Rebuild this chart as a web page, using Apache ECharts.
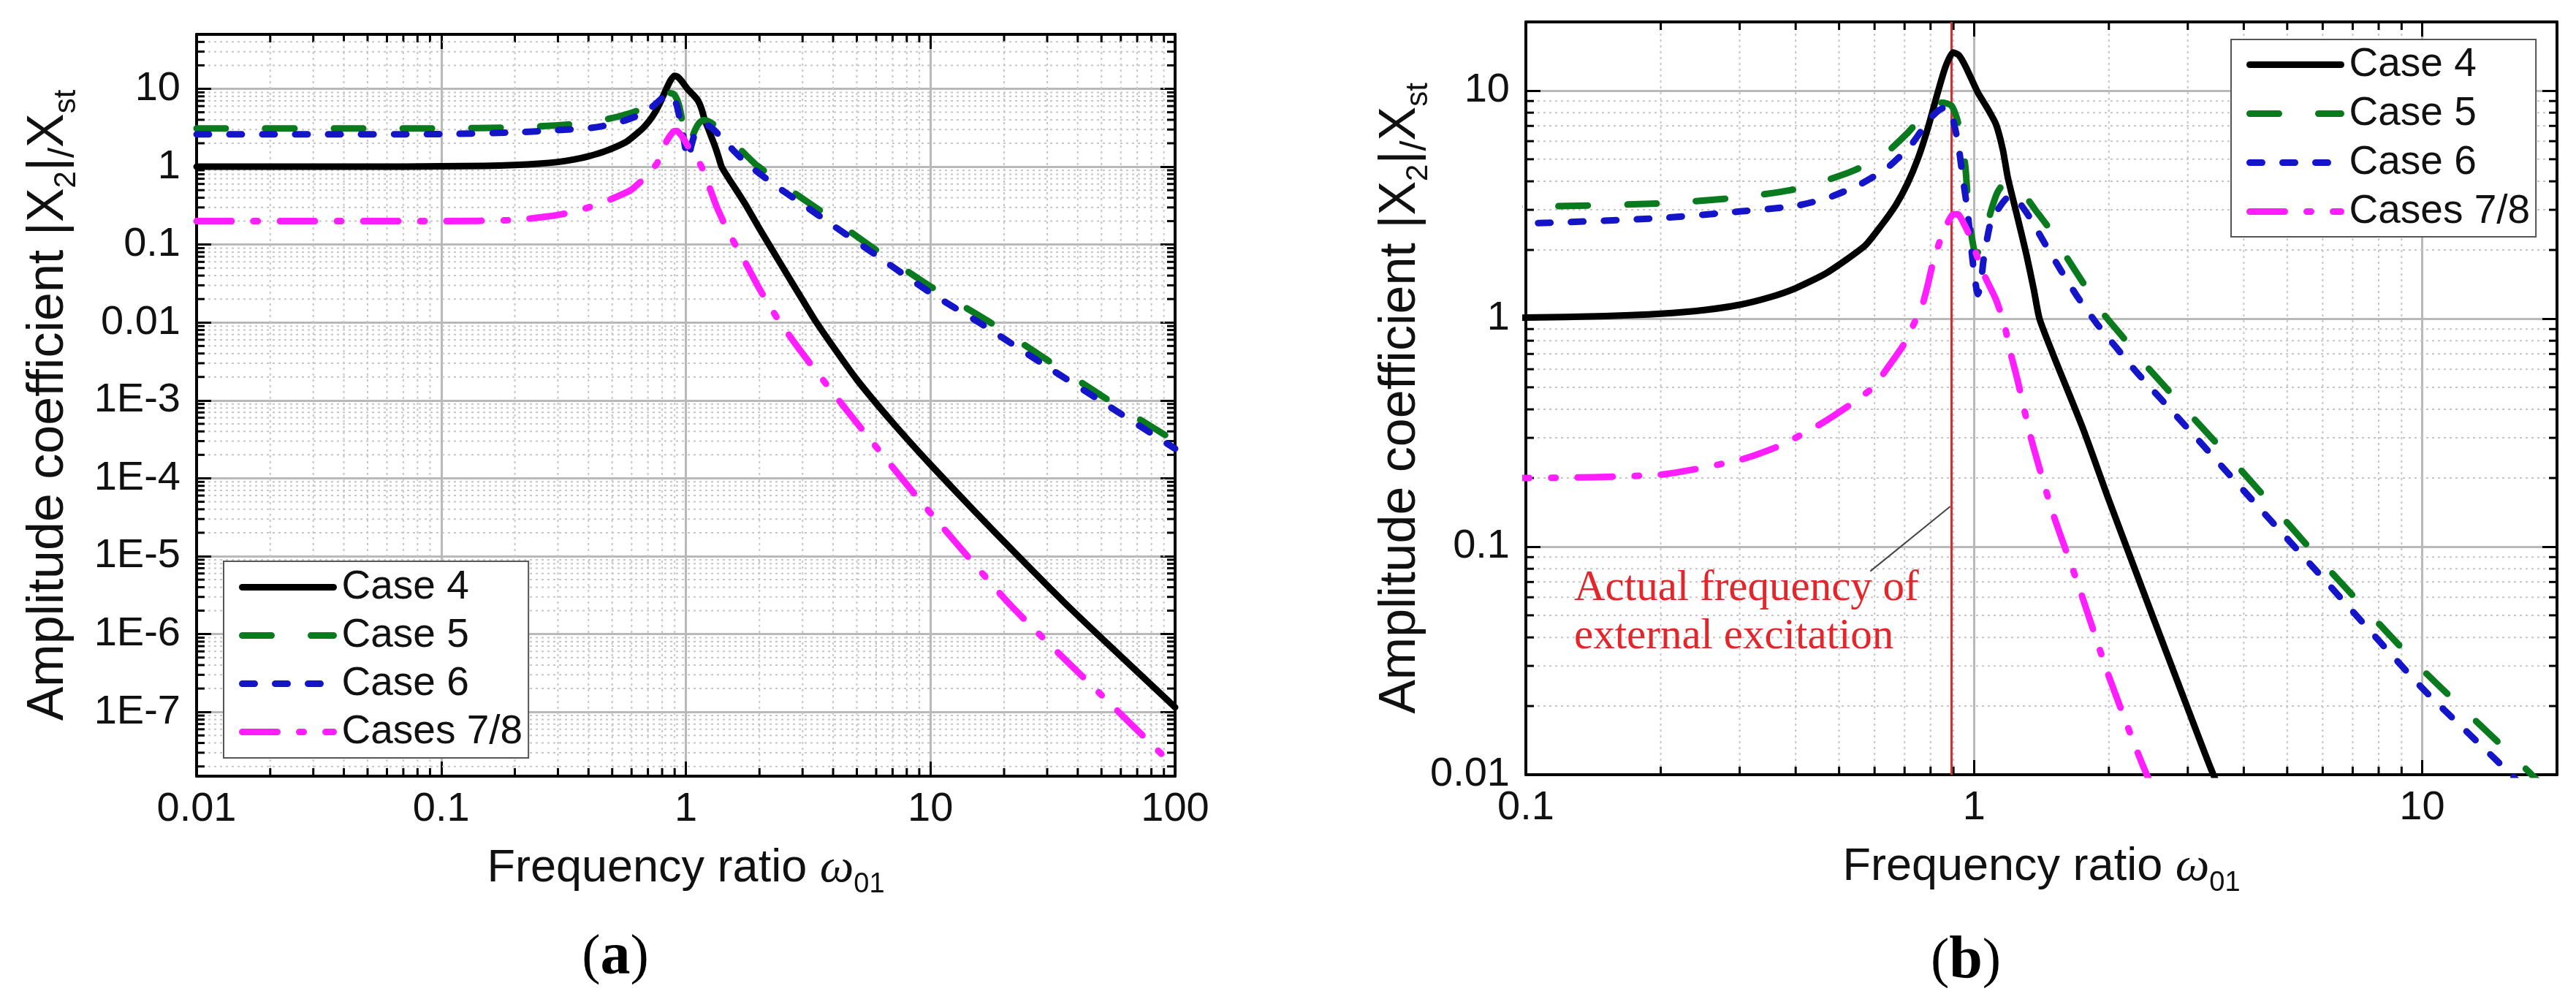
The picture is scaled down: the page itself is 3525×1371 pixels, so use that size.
<!DOCTYPE html>
<html>
<head>
<meta charset="utf-8">
<title>Amplitude coefficient vs frequency ratio</title>
<script src="https://cdn.jsdelivr.net/npm/echarts@6/dist/echarts.min.js"></script>
<style>
html, body { margin: 0; padding: 0; background: #fff; }
#chart { width: 3525px; height: 1371px; }
</style>
</head>
<body>
<div id="chart"></div>
<script>
// [frequency ratio w01, |X2|/Xst]; panel (b) is a zoom of panel (a)
const case4 = [
  [0.01, 1.0], [0.05, 1.0], [0.1, 1.01], [0.15, 1.025], [0.2, 1.05], [0.25, 1.09], [0.3, 1.15],
  [0.35, 1.24], [0.4, 1.36], [0.47, 1.59], [0.57, 2.08], [0.62, 2.55], [0.67, 3.16], [0.71, 3.9],
  [0.75, 5.04], [0.79, 6.9], [0.83, 9.8], [0.865, 12.8], [0.898, 14.7], [0.925, 14.3], [0.957, 12.8],
  [1.02, 9.8], [1.07, 8.4], [1.12, 7.1], [1.16, 5.5], [1.19, 4.15], [1.25, 2.79], [1.31, 1.9],
  [1.36, 1.34], [1.4, 1.0], [1.5, 0.7], [1.75, 0.33], [2.0, 0.16], [2.5, 0.05], [3.0, 0.0195],
  [3.4, 0.0103], [4.0, 4.9e-3], [5.0, 1.85e-3], [7.0, 5.2e-4], [10, 1.5e-4], [15, 3.9e-5],
  [23, 9.8e-6], [35, 2.6e-6], [50, 8.9e-7], [70, 3.3e-7], [100, 1.15e-7]
];
const case5 = [
  [0.01, 3.1], [0.1, 3.1], [0.2, 3.2], [0.3, 3.4], [0.39, 3.66], [0.45, 3.94], [0.53, 4.4],
  [0.62, 5.1], [0.71, 6.5], [0.76, 7.6], [0.8, 8.6], [0.85, 8.85], [0.89, 8.6], [0.915, 7.6],
  [0.936, 6.3], [0.957, 4.6], [0.968, 3.4], [0.985, 2.4], [1.01, 1.9], [1.05, 2.2], [1.09, 2.94],
  [1.13, 3.6], [1.18, 3.98], [1.23, 3.85], [1.29, 3.53], [1.37, 3.0], [1.46, 2.54], [1.59, 1.93],
  [1.75, 1.44], [1.93, 1.07], [2.16, 0.82], [2.39, 0.64], [3, 0.39], [4, 0.21], [6, 0.085],
  [10, 0.029], [17.3, 0.0103], [30, 3.3e-3], [50, 1.15e-3], [100, 3.0e-4]
];
const case6 = [
  [0.01, 2.6], [0.1, 2.62], [0.2, 2.76], [0.3, 2.95], [0.4, 3.12], [0.475, 3.4], [0.56, 3.9],
  [0.64, 4.58], [0.72, 5.7], [0.795, 7.48], [0.835, 8.2], [0.865, 8.46], [0.895, 7.6], [0.922, 5.85],
  [0.944, 4.15], [0.968, 2.94], [0.98, 2.3], [1.0, 1.6], [1.02, 1.28], [1.035, 1.4], [1.05, 1.8],
  [1.087, 2.6], [1.13, 3.0], [1.17, 3.3], [1.2, 3.45], [1.25, 3.3], [1.33, 2.79], [1.43, 2.18],
  [1.565, 1.62], [1.705, 1.24], [1.88, 0.95], [2.08, 0.745], [2.31, 0.58], [3, 0.33], [4, 0.176],
  [6, 0.073], [10, 0.024], [15.8, 0.01], [30, 2.7e-3], [50, 9.7e-4], [100, 2.4e-4]
];
const case78 = [
  [0.01, 0.2], [0.1, 0.2], [0.2, 0.207], [0.3, 0.24], [0.37, 0.278], [0.458, 0.348], [0.53, 0.42],
  [0.5955, 0.5], [0.642, 0.61], [0.7, 0.78], [0.74, 0.98], [0.7625, 1.1], [0.786, 1.37], [0.81, 1.76],
  [0.84, 2.2], [0.8655, 2.54], [0.895, 2.85], [0.92, 2.87], [0.95, 2.6], [0.979, 2.3], [1.048, 1.59],
  [1.118, 1.22], [1.168, 0.95], [1.2, 0.74], [1.25, 0.54], [1.34, 0.3], [1.5, 0.14], [1.7, 0.07],
  [2.0, 0.027], [2.38, 0.011], [3, 4.0e-3], [4.69, 6.6e-4], [9.3, 4.7e-5], [21.4, 2.3e-6],
  [50, 1.65e-7], [100, 1.95e-8]
];

const seriesNames = ['Case 4', 'Case 5', 'Case 6', 'Cases 7/8'];
const seriesData = [case4, case5, case6, case78];

// axis ranges of the two panels
const rangeA = { x: [0.01, 100], y: [1.5e-8, 50] };
const rangeB = { x: [0.1, 20], y: [0.01, 20] };

// excitation marker in panel (b) and the leader line of its note
const excitationRatio = 0.885;
const leaderLine = [[0.885, 0.15], [0.587, 0.078]];

const lineLook = {
  'Case 4': { color: '#000000', type: 'solid' },
  'Case 5': { color: '#0a7a1e', type: [40, 54] },
  'Case 6': { color: '#1414c8', type: [17, 28] },
  'Cases 7/8': { color: '#ff1eff', type: [48, 30, 6, 30] }
};
const LINE_W = 9;

const SANS = '"Liberation Sans", Arial, sans-serif';
const SERIF = '"Liberation Serif", "Times New Roman", serif';

function decadeLabel(v) {
  const e = Math.log10(v);
  const r = Math.round(e);
  if (Math.abs(e - r) > 1e-6) return '';
  if (r >= -2) return String(+Math.pow(10, r).toFixed(Math.max(0, -r)));
  return '1E' + r;
}

function minorValues(lo, hi) {
  const out = [];
  for (let e = Math.floor(Math.log10(lo)); e <= Math.ceil(Math.log10(hi)); e++) {
    for (let m = 2; m <= 9; m++) {
      const v = m * Math.pow(10, e);
      if (v > lo * 1.0001 && v < hi * 0.9999) out.push(v);
    }
  }
  return out;
}

const dotted = { stroke: '#c6c6c6', lineWidth: 2, lineDash: [3, 5] };
const minorTickStyle = { stroke: '#000', lineWidth: 3 };
const MINOR_LEN = 11;

function renderMinorX(params, api) {
  const cs = params.coordSys;
  const x = api.coord([api.value(0), 1])[0];
  const top = cs.y, bottom = cs.y + cs.height;
  return { type: 'group', children: [
    { type: 'line', shape: { x1: x, y1: top, x2: x, y2: bottom }, style: dotted },
    { type: 'line', shape: { x1: x, y1: bottom, x2: x, y2: bottom - MINOR_LEN }, style: minorTickStyle },
    { type: 'line', shape: { x1: x, y1: top, x2: x, y2: top + MINOR_LEN }, style: minorTickStyle }
  ]};
}
function renderMinorY(params, api) {
  const cs = params.coordSys;
  const y = api.coord([1, api.value(1)])[1];
  const left = cs.x, right = cs.x + cs.width;
  return { type: 'group', children: [
    { type: 'line', shape: { x1: left, y1: y, x2: right, y2: y }, style: dotted },
    { type: 'line', shape: { x1: left, y1: y, x2: left + MINOR_LEN, y2: y }, style: minorTickStyle },
    { type: 'line', shape: { x1: right, y1: y, x2: right - MINOR_LEN, y2: y }, style: minorTickStyle }
  ]};
}

function minorSeries(axisIdx, range) {
  return [
    { type: 'custom', xAxisIndex: axisIdx, yAxisIndex: axisIdx, silent: true, z: 1,
      data: minorValues(range.x[0], range.x[1]).map(v => [v, 1]), renderItem: renderMinorX },
    { type: 'custom', xAxisIndex: axisIdx, yAxisIndex: axisIdx, silent: true, z: 1,
      data: minorValues(range.y[0], range.y[1]).map(v => [1, v]), renderItem: renderMinorY }
  ];
}

function curve(i, axisIdx) {
  const name = seriesNames[i];
  const look = lineLook[name];
  return {
    name: name, type: 'line', data: seriesData[i],
    xAxisIndex: axisIdx, yAxisIndex: axisIdx,
    symbol: 'none', showSymbol: false, smooth: 0.2, silent: true, z: 5,
    lineStyle: { color: look.color, width: LINE_W, type: look.type, cap: 'round', join: 'round' },
    itemStyle: { color: look.color }
  };
}

const labelText = { show: true, color: '#111', fontFamily: SANS, fontSize: 56 };

function nameStyle(size) {
  const sub = Math.round(size * 0.6);
  return {
    fontFamily: SANS, fontSize: size, color: '#111', lineHeight: Math.round(size * 1.3),
    rich: {
      sub: { fontFamily: SANS, fontSize: sub, color: '#111', verticalAlign: 'bottom', lineHeight: sub + 4 },
      sl: { fontFamily: SANS, fontSize: Math.round(size * 0.72), color: '#111', verticalAlign: 'bottom',
            lineHeight: Math.round(size * 0.8) },
      w: { fontFamily: SERIF, fontStyle: 'italic', fontSize: Math.round(size * 1.05), color: '#111' }
    }
  };
}
const xName = 'Frequency ratio {w|\u03c9}{sub|01}';
const yName = 'Amplitude coefficient |X{sub|2}|{sl|/}X{sub|st}';

function logAxis(extra) {
  return Object.assign({
    type: 'log', logBase: 10,
    axisLine: { show: true, onZero: false, lineStyle: { color: '#000', width: 4 } },
    axisTick: { show: true, inside: true, length: 20, lineStyle: { color: '#000', width: 3 } },
    axisLabel: { show: false },
    splitLine: { show: false },
    minorTick: { show: false },
    nameMoveOverlap: false
  }, extra);
}
const majorGrid = { show: true, lineStyle: { color: '#b9b9b9', width: 3 } };

function panelAxes(gridIndex, range, yGap) {
  return {
    x: [
      logAxis({ gridIndex: gridIndex, position: 'bottom', min: range.x[0], max: range.x[1],
        axisLabel: Object.assign({ margin: 18, formatter: decadeLabel }, labelText),
        splitLine: majorGrid,
        name: xName, nameLocation: 'middle', nameGap: 86, nameTextStyle: nameStyle(63) }),
      logAxis({ gridIndex: gridIndex, position: 'top', min: range.x[0], max: range.x[1] })
    ],
    y: [
      logAxis({ gridIndex: gridIndex, position: 'left', min: range.y[0], max: range.y[1],
        axisLabel: Object.assign({ margin: 22, formatter: decadeLabel }, labelText),
        splitLine: majorGrid,
        name: yName, nameLocation: 'middle', nameRotate: 90, nameGap: yGap, nameTextStyle: nameStyle(70) }),
      logAxis({ gridIndex: gridIndex, position: 'right', min: range.y[0], max: range.y[1] })
    ]
  };
}

const axesA = panelAxes(0, rangeA, 157);
const axesB = panelAxes(1, rangeB, 126);

function legendBox(left, top, gap, pad) {
  return {
    data: seriesNames, orient: 'vertical', left: left, top: top,
    itemWidth: 125, itemHeight: 14, itemGap: gap,
    padding: [pad, 8, pad, 21],
    borderColor: '#555', borderWidth: 2, backgroundColor: '#fff',
    selectedMode: false, z: 10,
    itemStyle: { opacity: 0 },
    lineStyle: { width: LINE_W, cap: 'round' },
    textStyle: { fontFamily: SANS, fontSize: 55, lineHeight: 53, color: '#111', padding: [0, 0, 0, 6] }
  };
}

const panelB = [0, 1, 2, 3].map(i => curve(i, 2));
panelB[3].markLine = {
  silent: true, symbol: ['none', 'none'], animation: false,
  label: { show: false },
  data: [
    { xAxis: excitationRatio, lineStyle: { color: '#e3262b', width: 3, type: 'solid' } },
    [{ coord: leaderLine[0], lineStyle: { color: '#444', width: 2, type: 'solid' } }, { coord: leaderLine[1] }]
  ]
};

const panelTag = letter => ({
  text: '{p|(}{b|' + letter + '}{p|)}', align: 'center', verticalAlign: 'middle',
  textAlign: 'center', textVerticalAlign: 'middle',
  rich: { p: { fontFamily: SERIF, fontSize: 76, fill: '#000' },
          b: { fontFamily: SERIF, fontSize: 82, fontWeight: 'bold', fill: '#000' } }
});

const option = {
  backgroundColor: '#ffffff',
  animation: false,
  grid: [
    { left: 269, top: 47, width: 1339, height: 1015, containLabel: false, outerBoundsMode: 'none' },
    { left: 2088, top: 30, width: 1411, height: 1030, containLabel: false, outerBoundsMode: 'none' }
  ],
  xAxis: axesA.x.concat(axesB.x),
  yAxis: axesA.y.concat(axesB.y),
  legend: [legendBox(306, 768, 11, 8), legendBox(3053, 54, 12, 7)],
  series: []
    .concat(minorSeries(0, rangeA), [0, 1, 2, 3].map(i => curve(i, 0)))
    .concat(minorSeries(2, rangeB), panelB),
  graphic: [
    { type: 'text', x: 842, y: 1311, style: panelTag('a') },
    { type: 'text', x: 2690, y: 1316, style: panelTag('b') },
    { type: 'text', x: 2154, y: 772, z: 20, style: {
      text: 'Actual frequency of\nexternal excitation',
      fill: '#e3262b', fontFamily: SERIF, fontSize: 59, lineHeight: 66,
      align: 'left', verticalAlign: 'top', textAlign: 'left', textVerticalAlign: 'top' } }
  ]
};

const chart = echarts.init(document.getElementById('chart'));
chart.setOption(option);
</script>
</body>
</html>
